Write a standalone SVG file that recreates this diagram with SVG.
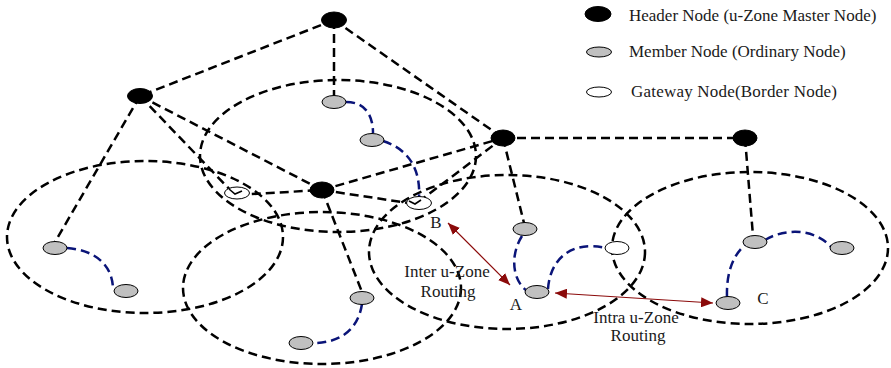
<svg xmlns="http://www.w3.org/2000/svg" width="891" height="368" viewBox="0 0 891 368">
  <style>
    .zone { fill: none; stroke: #000; stroke-width: 2.5; stroke-dasharray: 9 5; }
    .link { fill: none; stroke: #000; stroke-width: 2.5; stroke-dasharray: 9 5; }
    .path { fill: none; stroke: #0a1478; stroke-width: 2.5; stroke-dasharray: 9 5; }
    .route { fill: none; stroke: #8b0a0a; stroke-width: 1.2; }
    .header { fill: #000; stroke: #000; stroke-width: 1; }
    .member { fill: #c0c0c0; stroke: #000; stroke-width: 1; }
    .gateway { fill: #fff; stroke: #000; stroke-width: 1; }
    .tick { fill: none; stroke: #000; stroke-width: 1.6; }
    text { font-family: "Liberation Serif", "Times New Roman", serif; font-size: 17px; fill: #1a1a1a; }
  </style>
  <defs>
    <marker id="arrow" viewBox="0 0 12 10" refX="12" refY="5" markerWidth="12" markerHeight="10" markerUnits="userSpaceOnUse" orient="auto-start-reverse">
      <path d="M0,0 L12,5 L0,10 Z" fill="#8b0a0a"/>
    </marker>
  </defs>

  <rect width="891" height="368" fill="#fff"/>

  <!-- u-Zones -->
  <g id="zones">
    <ellipse class="zone" cx="145" cy="237" rx="138" ry="76"/>
    <ellipse class="zone" cx="338" cy="156" rx="138" ry="76"/>
    <ellipse class="zone" cx="322" cy="288" rx="139" ry="76"/>
    <ellipse class="zone" cx="507" cy="252" rx="138" ry="77"/>
    <ellipse class="zone" cx="750" cy="248" rx="138" ry="76"/>
  </g>

  <!-- connectors -->
  <g id="connectors">
    <line class="link" x1="334" y1="20" x2="140" y2="96"/>
    <line class="link" x1="334" y1="20" x2="334" y2="96"/>
    <line class="link" x1="334" y1="20" x2="503" y2="138"/>
    <line class="link" x1="140" y1="96" x2="55" y2="242"/>
    <polyline class="link" points="140,96 235,195 322,190"/>
    <line class="link" x1="140" y1="96" x2="322" y2="190"/>
    <line class="link" x1="322" y1="190" x2="503" y2="138"/>
    <polyline class="link" points="322,190 415,204 421,200 503,138"/>
    <line class="link" x1="322" y1="190" x2="362" y2="292"/>
    <line class="link" x1="503" y1="138" x2="745" y2="138"/>
    <line class="link" x1="503" y1="138" x2="524" y2="223"/>
    <line class="link" x1="745" y1="138" x2="753" y2="236"/>

    <!-- intra-zone member paths -->
    <path class="path" d="M346,102 C365,102 373,115 373,133"/>
    <path class="path" d="M383,141 C405,148 421,165 419,198"/>
    <path class="path" d="M67,248 C95,250 113,265 113,290"/>
    <path class="path" d="M362,304 C358,330 340,343 313,343"/>
    <path class="path" d="M522,236 C510,255 512,280 527,291"/>
    <path class="path" d="M548,289 C550,260 570,240 606,248"/>
    <path class="path" d="M727,297 C726,265 738,248 752,240"/>
    <path class="path" d="M765,240 C785,228 815,228 832,248"/>

    <!-- routing arrows -->
    <line class="route" x1="448" y1="223" x2="510" y2="285" marker-start="url(#arrow)" marker-end="url(#arrow)"/>
    <line class="route" x1="555" y1="293" x2="713" y2="303" marker-start="url(#arrow)" marker-end="url(#arrow)"/>
  </g>

  <!-- header nodes -->
  <g id="header-1"><ellipse class="header" cx="334" cy="20" rx="12.5" ry="8"/></g>
  <g id="header-2"><ellipse class="header" cx="140" cy="96" rx="12.5" ry="7.5"/></g>
  <g id="header-3"><ellipse class="header" cx="503" cy="138" rx="12" ry="8"/></g>
  <g id="header-4"><ellipse class="header" cx="745" cy="138" rx="12" ry="8"/></g>
  <g id="header-5"><ellipse class="header" cx="322" cy="190" rx="12" ry="8"/></g>

  <!-- member nodes -->
  <g id="member-1"><ellipse class="member" cx="334" cy="102" rx="12" ry="6.5"/></g>
  <g id="member-2"><ellipse class="member" cx="372" cy="140" rx="12" ry="6.5"/></g>
  <g id="member-3"><ellipse class="member" cx="55" cy="248" rx="12" ry="6.5"/></g>
  <g id="member-4"><ellipse class="member" cx="126" cy="291" rx="12" ry="6.5"/></g>
  <g id="member-5"><ellipse class="member" cx="362" cy="298" rx="12" ry="6.5"/></g>
  <g id="member-6"><ellipse class="member" cx="301" cy="343" rx="12" ry="6.5"/></g>
  <g id="member-7"><ellipse class="member" cx="525" cy="229" rx="12" ry="6.5"/></g>
  <g id="member-a"><ellipse class="member" cx="537" cy="292" rx="12" ry="6.5"/></g>
  <g id="member-9"><ellipse class="member" cx="755" cy="242" rx="12" ry="6.5"/></g>
  <g id="member-10"><ellipse class="member" cx="842" cy="248" rx="12" ry="6.5"/></g>
  <g id="member-c"><ellipse class="member" cx="728" cy="303" rx="12" ry="6.5"/></g>

  <!-- gateway nodes -->
  <g id="gateway-1">
    <ellipse class="gateway" cx="237" cy="193" rx="12.5" ry="6"/>
    <polyline class="tick" points="229,189 235,194 242,191"/>
  </g>
  <g id="gateway-2">
    <ellipse class="gateway" cx="419" cy="203" rx="12.5" ry="6.5"/>
    <polyline class="tick" points="409,201 415,204 421,200"/>
  </g>
  <g id="gateway-3"><ellipse class="gateway" cx="617" cy="248" rx="12" ry="6.5"/></g>

  <!-- labels -->
  <g id="labels">
    <text x="436" y="228" text-anchor="middle">B</text>
    <text x="516" y="310" text-anchor="middle">A</text>
    <text x="763" y="304" text-anchor="middle">C</text>
    <text x="447" y="277" text-anchor="middle">Inter u-Zone</text>
    <text x="448" y="297" text-anchor="middle">Routing</text>
    <text x="636" y="323" text-anchor="middle">Intra u-Zone</text>
    <text x="638" y="341" text-anchor="middle">Routing</text>
  </g>

  <!-- legend -->
  <g id="legend">
    <ellipse class="header" cx="598" cy="14" rx="13" ry="7.5"/>
    <text x="629" y="21">Header Node (u-Zone Master Node)</text>
    <ellipse class="member" cx="599" cy="52" rx="12.5" ry="5"/>
    <text x="629" y="57">Member Node (Ordinary Node)</text>
    <ellipse class="gateway" cx="599" cy="92" rx="12.5" ry="5"/>
    <text x="631" y="97" textLength="206" lengthAdjust="spacing">Gateway Node(Border Node)</text>
  </g>
</svg>
